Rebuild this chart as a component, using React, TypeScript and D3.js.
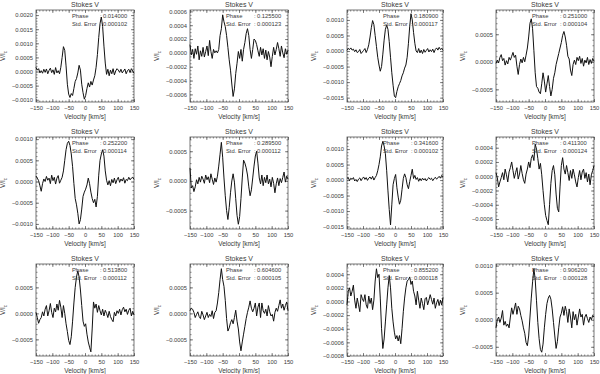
import React, { useEffect, useRef } from "react";
import * as d3 from "d3";

// velocity grid, km/s
const velocity = d3.range(-150, 151, 4);
const xTicks = [-150, -100, -50, 0, 50, 100, 150];

const phases = ["0.014000", "0.125500", "0.180900", "0.251000", "0.252200", "0.289500",
  "0.341600", "0.411300", "0.513800", "0.604600", "0.855200", "0.906200"];
const stdErrors = ["0.000102", "0.000123", "0.000117", "0.000104", "0.000114", "0.000112",
  "0.000102", "0.000124", "0.000112", "0.000105", "0.000118", "0.000128"];

// axis ranges and tick steps, in units of 1e-4
const yMin = [-10.8, -7.1, -16.4, -7.3, -11.2, -8.1, -15.8, -7.4, -8.2, -8.2, -8.0, -6.7];
const yMax = [21.8, 6.2, 13.2, 9.4, 10.5, 7.4, 13.9, 5.5, 9.5, 9.5, 5.5, 10.3];
const yStep = [5, 2, 5, 5, 5, 5, 5, 2, 5, 5, 2, 5];

// Stokes V profiles, in units of 1e-4
const v1 = [1.5, 0.5, 1.0, -0.5, 0.3, -0.6, 0.8, -0.3, 0.9, -0.8, 0.4, 1.2, -0.4, 0.6, -1.0, 1.4, -0.5, 0.3, -0.8, 1.5,
  5.0, 8.8, 7.5, 2.0, -4.5, -8.0, -9.2, -7.8, -8.5, -6.0, -3.5, -2.5, -0.5, 2.2, 0.5, -4.5, -7.5, -9.8, -8.5, -6.0,
  -4.0, -5.5, -3.5, -4.8, -3.0, -1.5, 1.5, 6.0, 12.0, 17.0, 19.3, 16.0, 9.0, 3.0, -1.0, 0.8, -1.5, 0.5, -0.8, 1.0,
  -1.2, 0.2, 1.0, 0.5, -0.3, 0.8, -0.5, 0.2, 0.9, -0.8, 0.3, 0.8, -0.4, 1.0, 0.2, -0.6];
const v2 = [1.2, -0.3, 0.5, -0.8, 0.6, -0.2, 1.0, -1.0, 0.3, -0.5, 0.8, -0.6, 0.2, 1.0, -0.4, 1.8, 0.2, -0.8, 0.5, 0.0,
  0.3, 0.0, 0.5, 2.5, 3.5, 5.5, 4.5, 3.8, 2.5, 0.8, -1.0, -2.5, -4.5, -6.3, -5.2, -3.0, -1.5, 0.2, -0.8, 0.5,
  -1.2, 0.5, 1.5, 2.8, 3.5, 2.5, 0.5, -0.8, 0.5, 2.0, 1.8, 1.2, 0.3, -0.5, 0.8, -0.3, 0.6, -0.8, 0.4, -1.0,
  0.2, -0.6, -2.0, -0.5, 0.8, -0.3, 0.5, 1.5, 0.6, -0.5, 1.0, 0.0, -0.7, 0.6, -0.2, 0.4];
const v3 = [0.2, 0.8, 0.5, 1.0, 0.3, 0.6, -0.2, 0.4, -0.5, -0.2, 0.5, -0.8, -0.3, 0.2, 0.8, -0.5, 0.5, 2.0, 4.5, 7.5,
  9.8, 8.5, 5.0, 1.5, -2.0, -4.5, -6.5, -5.0, -1.0, 3.5, 7.0, 8.3, 7.0, 3.0, -2.0, -7.0, -11.0, -14.5, -15.0, -13.0,
  -11.5, -10.5, -9.5, -8.0, -7.0, -5.5, -4.5, -2.0, 2.5, 8.0, 12.0, 10.0, 6.0, 2.5, 0.0, -0.5, 0.8, -0.6, 0.3, -0.8,
  0.5, -0.4, 0.2, 0.8, -0.3, 0.4, -0.2, 0.6, -0.5, 0.5, 1.0, 0.3, 1.2, 0.5, 0.8, 0.2];
const v4 = [-0.3, 0.3, -0.2, 0.8, 1.3, 0.2, 0.6, -0.6, 0.2, -0.4, 0.8, 0.3, 1.0, 1.7, 0.8, 1.2, -0.8, -2.3, -0.5, 0.5,
  -0.2, 0.8, 0.0, 1.2, 2.5, 4.5, 7.0, 7.8, 6.0, 2.0, -2.0, -4.5, -4.8, -5.5, -5.8, -4.0, -2.0, -3.5, -5.5, -4.0,
  -2.5, -4.5, -6.2, -5.0, -3.0, -2.0, -0.5, 0.5, 1.5, 2.5, 3.5, 4.8, 5.5, 4.5, 3.0, 1.0, 0.5, -1.5, -2.5, -0.5,
  0.3, -0.5, 0.8, 0.2, 1.0, -0.3, 0.6, -0.8, 0.3, -0.2, 0.8, -0.5, 0.4, -0.3, 0.6, 0.1];
const v5 = [1.3, 0.8, 0.2, -1.0, -2.3, -0.5, 0.6, 0.0, 1.2, 0.3, 0.8, -0.5, 1.5, 0.2, 1.0, -0.6, 0.8, 1.4, -0.4, 0.3,
  1.0, 2.5, 5.0, 7.5, 9.0, 9.5, 8.5, 6.5, 3.5, -0.5, -4.0, -5.5, -7.5, -10.0, -9.0, -6.5, -3.5, -2.5, -1.8, -0.8,
  0.8, -0.5, -2.5, -4.0, -5.0, -4.2, -6.0, -3.5, 1.5, 5.0, 6.5, 7.5, 6.0, 2.5, 0.3, -0.8, 0.2, -1.0, 0.5, -0.3,
  0.8, -0.5, 0.4, 1.0, -0.2, 0.6, 0.1, 0.9, -0.4, 0.5, 0.2, 1.0, 0.4, 0.8, 1.0, 0.5];
const v6 = [2.2, -1.2, -0.8, -1.8, -1.0, 0.2, -0.5, 0.6, -0.2, 0.8, 0.3, -0.4, 1.0, 0.2, 0.7, -0.3, 1.2, 0.3, -0.6, 0.5,
  -0.2, 0.8, 2.5, 4.5, 6.5, 4.0, 0.5, -2.5, -5.0, -6.5, -4.5, -2.0, 0.0, 1.2, -0.2, -3.0, -5.8, -7.3, -6.0, -3.0,
  0.5, 3.5, 3.0, 2.2, 1.0, -1.0, -2.5, -1.5, 0.5, 2.5, 4.2, 5.0, 3.0, 0.5, -0.5, 1.0, -0.8, 0.6, -0.3, 1.0,
  -0.5, 0.3, -1.0, 0.6, -0.4, -2.0, -0.5, 0.5, -0.8, 0.4, -0.3, 0.6, 1.5, -0.2, 0.8, 0.3];
const v7 = [0.5, 0.8, -0.2, 0.6, 0.2, 0.8, -0.3, 0.2, -0.5, 0.3, 0.7, -0.2, 0.5, 1.0, 0.2, 0.8, -0.1, 0.6, 1.0, 0.3,
  1.2, 0.0, 0.8, 1.5, 3.0, 5.0, 7.5, 11.0, 12.5, 11.0, 8.5, 3.0, -3.5, -9.5, -14.5, -8.0, -1.5, 0.5, 1.8, -2.5,
  -5.5, -7.8, -6.5, -3.0, 0.5, 2.0, 0.8, -1.5, -2.8, -0.5, 1.5, 3.5, 0.5, 1.5, 0.2, 0.8, -0.4, 0.5, -0.2, 0.6,
  0.0, 0.5, -0.3, 0.4, 0.8, 0.2, 0.6, -0.2, 0.4, 0.9, 0.3, 0.7, 1.2, 0.6, 1.5, 1.0];
const v8 = [0.5, -0.2, -1.5, -0.8, -0.2, 0.5, -0.5, 1.0, 0.2, -0.8, 0.6, 1.2, 2.0, 0.8, -0.3, 0.5, 1.2, -0.4, 0.3, 1.5,
  0.4, -0.5, -1.0, 0.3, 1.0, 2.0, 1.2, 2.5, 3.0, 2.2, 4.5, 3.8, 2.5, 1.0, 1.8, 0.2, -2.0, -4.0, -5.5, -6.2,
  -6.8, -4.0, -1.0, 0.8, 1.5, 0.2, -2.5, -4.5, -5.0, -1.5, 1.5, 2.6, 1.0, 0.3, 1.5, 0.5, -0.6, 0.8, -0.3, 1.0,
  0.2, -0.8, -1.5, -0.2, 0.8, -0.5, 0.6, 1.0, -0.3, 0.5, -0.8, 0.3, -1.2, 0.2, 0.8, 1.5];
const v9 = [0.2, -0.8, -1.9, -1.2, -0.8, 0.3, -0.5, 0.8, 1.5, -0.5, 0.5, 1.9, 0.2, -0.8, 1.0, 0.3, 1.8, 0.6, 2.5, 1.2,
  -0.8, 1.5, 0.0, -2.0, -3.5, -5.2, -6.0, -4.5, -1.5, 2.0, 5.0, 7.0, 8.2, 7.0, 4.5, 1.5, -1.5, -2.5, -2.0, -4.0,
  -5.5, -6.5, -7.4, -3.0, 2.2, 1.0, 1.8, 0.2, 1.5, 0.5, -0.3, 0.8, -0.5, 0.6, 0.0, -0.8, 0.4, -0.6, -1.2, -1.6,
  0.2, -0.5, 0.5, 0.0, 0.8, -0.3, 0.7, 1.2, 0.3, 0.8, -0.2, 0.6, 1.0, -0.5, 0.4, -0.3];
const v10 = [0.5, 1.0, 0.8, 0.2, -0.8, -0.2, 0.3, -0.6, -1.0, 0.4, -0.3, -1.2, -0.5, 0.2, -0.8, -0.2, -0.6, 0.5, -1.0, 0.2,
  0.5, 2.0, 4.0, 6.5, 8.6, 6.5, 5.2, 2.5, -1.0, -3.4, -2.8, -1.8, -1.2, -2.0, -0.8, 0.6, -1.5, -3.0, -5.5, -7.2,
  -5.5, -4.0, -2.5, -1.0, 0.2, 1.2, 2.4, 1.0, 0.3, 1.0, 2.0, -0.5, 1.2, 2.0, -0.8, 2.0, 0.5, 0.0, 0.8, -0.5,
  1.5, 0.3, -0.5, -0.2, -1.5, 0.2, 1.0, 0.4, 1.5, 2.6, 1.0, 1.8, 0.6, 1.5, 2.2, 0.5];
const v11 = [-0.5, 1.5, 2.0, 0.8, 1.5, 2.4, 0.2, -1.0, 0.5, -0.5, -1.5, 1.0, 0.4, 0.0, 1.0, -0.5, -1.0, 0.8, -0.3, 0.5,
  -1.2, 0.2, 3.0, 4.8, 3.5, 4.0, 0.5, -4.0, -6.9, -5.5, -3.0, -0.5, 2.0, 3.8, 2.0, -1.0, -3.0, -4.5, -5.5, -5.0,
  -5.8, -5.0, -6.2, -4.0, -1.5, 0.5, 2.0, 3.0, 3.2, 3.6, 2.5, 3.0, 1.5, 0.8, -0.5, 1.5, 0.2, -1.0, 0.5, -0.3,
  -1.2, 0.4, 0.6, -0.5, 0.2, 1.0, 0.3, -0.4, 0.5, -1.0, -0.2, 0.3, -0.6, 0.2, -0.5, 0.6];
const v12 = [-1.5, 0.0, 0.5, -0.5, 0.3, 1.7, -1.0, -0.3, -1.2, -0.8, -1.5, 0.5, 2.2, 1.0, 2.0, 3.1, 1.0, 2.5, 2.0, 0.8,
  -0.2, -1.5, -2.5, -4.2, -4.8, -3.0, 0.5, 4.0, 7.0, 9.4, 7.5, 3.5, -0.5, -3.5, -5.5, -6.0, -4.5, -1.5, 1.0, 3.0,
  4.0, 4.5, 3.8, 2.0, -0.5, -3.0, -5.3, -4.0, -1.5, 0.5, 1.2, 2.4, 0.8, 2.5, 1.5, -0.5, 2.0, 0.5, -1.5, 1.5,
  0.0, 1.0, -1.0, 0.5, 2.0, 0.5, 1.0, -1.0, 0.5, 1.0, 0.2, -0.5, 0.5, 0.0, 0.8, 0.5];

const profiles = [v1, v2, v3, v4, v5, v6, v7, v8, v9, v10, v11, v12];

const W = 600;
const H = 374;
const colLeft = [36, 190, 347, 496];
const colWidth = [98, 98, 96, 98];
const rowTop = [10, 137, 264];
const boxH = 92;
const FONT = "'Liberation Sans', Arial, sans-serif";
const INK = "#3a3a3a";

const StokesGrid = () => {
  const svgRef = useRef(null);

  useEffect(() => {
    const svg = d3.select(svgRef.current);
    svg.selectAll("*").remove();

    profiles.forEach((vals, i) => {
      const r = Math.floor(i / 4);
      const c = i % 4;
      const w = colWidth[c];
      const g = svg.append("g").attr("transform", `translate(${colLeft[c]},${rowTop[r]})`);

      const x = d3.scaleLinear().domain([-150, 150]).range([0, w]);
      const y = d3.scaleLinear().domain([yMin[i] * 1e-4, yMax[i] * 1e-4]).range([boxH, 0]);

      const step = yStep[i];
      const yt = d3.range(Math.ceil(yMin[i] / step) * step, yMax[i] + 1e-6, step).map((d) => d * 1e-4);
      const minorStep = step === 5 ? 1 : 0.5;
      const ytMinor = d3.range(Math.ceil(yMin[i] / minorStep) * minorStep, yMax[i] + 1e-6, minorStep).map((d) => d * 1e-4);
      const xtMinor = d3.range(-150, 151, 10);

      // minor ticks on all four sides
      g.append("g").attr("transform", `translate(0,${boxH})`)
        .call(d3.axisBottom(x).tickValues(xtMinor).tickSize(-1.5).tickSizeOuter(0).tickFormat(() => ""));
      g.append("g").call(d3.axisTop(x).tickValues(xtMinor).tickSize(-1.5).tickSizeOuter(0).tickFormat(() => ""));
      g.append("g").call(d3.axisLeft(y).tickValues(ytMinor).tickSize(-1.5).tickSizeOuter(0).tickFormat(() => ""));
      g.append("g").attr("transform", `translate(${w},0)`)
        .call(d3.axisRight(y).tickValues(ytMinor).tickSize(-1.5).tickSizeOuter(0).tickFormat(() => ""));

      // major ticks and labels
      g.append("g").attr("class", "x-axis").attr("transform", `translate(0,${boxH})`)
        .call(d3.axisBottom(x).tickValues(xTicks).tickSize(-3).tickSizeOuter(0).tickPadding(4).tickFormat(d3.format("d")));
      g.append("g").call(d3.axisTop(x).tickValues(xTicks).tickSize(-3).tickSizeOuter(0).tickFormat(() => ""));
      g.append("g").attr("class", "y-axis")
        .call(d3.axisLeft(y).tickValues(yt).tickSize(-3).tickSizeOuter(0).tickPadding(3).tickFormat(d3.format(".4f")));
      g.append("g").attr("transform", `translate(${w},0)`)
        .call(d3.axisRight(y).tickValues(yt).tickSize(-3).tickSizeOuter(0).tickFormat(() => ""));

      g.selectAll(".domain").remove();
      g.selectAll(".tick line").attr("stroke", "#555").attr("stroke-width", 0.7);
      g.selectAll(".tick text")
        .attr("fill", INK)
        .style("font-family", FONT)
        .style("font-size", "5.8px");

      // plot box
      g.append("rect")
        .attr("x", 0).attr("y", 0).attr("width", w).attr("height", boxH)
        .attr("fill", "none").attr("stroke", "#555").attr("stroke-width", 0.8);

      // the profile
      const line = d3.line()
        .x((d, k) => x(velocity[k]))
        .y((d) => y(d * 1e-4));
      g.append("path")
        .datum(vals)
        .attr("d", line)
        .attr("fill", "none")
        .attr("stroke", "#111")
        .attr("stroke-width", 1)
        .attr("stroke-linejoin", "round");

      // titles
      g.append("text")
        .attr("x", w / 2).attr("y", -3)
        .attr("text-anchor", "middle")
        .attr("fill", INK)
        .style("font-family", FONT).style("font-size", "7px")
        .text("Stokes V");

      g.append("text")
        .attr("x", w / 2).attr("y", boxH + 17)
        .attr("text-anchor", "middle")
        .attr("fill", INK)
        .style("font-family", FONT).style("font-size", "6.5px")
        .text("Velocity [km/s]");

      const yl = g.append("text")
        .attr("transform", `translate(-31,${boxH / 2}) rotate(-90)`)
        .attr("text-anchor", "middle")
        .attr("fill", INK)
        .style("font-family", FONT).style("font-size", "6.5px");
      yl.append("tspan").text("V/I");
      yl.append("tspan").attr("dy", 1.5).style("font-size", "4.5px").text("c");

      // phase and error annotation
      const info = [["Phase", phases[i]], ["Std. Error", stdErrors[i]]];
      info.forEach(([label, value], j) => {
        const ty = 8 + j * 8;
        g.append("text").attr("x", 36).attr("y", ty).attr("fill", INK)
          .style("font-family", FONT).style("font-size", "5.8px").text(label);
        g.append("text").attr("x", 64).attr("y", ty).attr("fill", INK)
          .style("font-family", FONT).style("font-size", "5.8px").text(":");
        g.append("text").attr("x", 67).attr("y", ty).attr("fill", INK)
          .style("font-family", FONT).style("font-size", "5.8px").text(value);
      });
    });
  }, []);

  return (
    <svg
      ref={svgRef}
      width={W}
      height={H}
      style={{ position: "absolute", left: 0, top: 0, background: "#fff" }}
    ></svg>
  );
};

export default function App() {
  return <StokesGrid />;
}
